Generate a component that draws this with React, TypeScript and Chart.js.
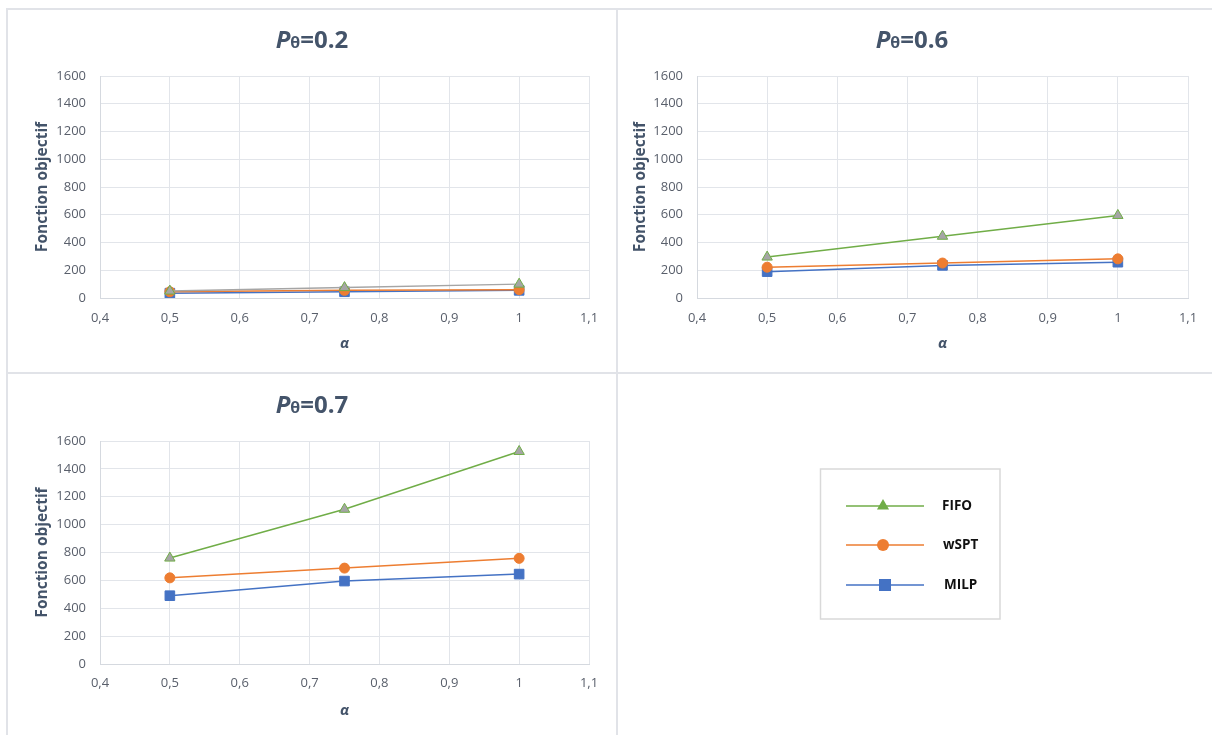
import React, { useEffect, useRef } from "react";
import { Chart, registerables } from "chart.js";

Chart.register(...registerables);

// ---------------- data ----------------
const alphaValues = [0.5, 0.75, 1];
const seriesNames = ["FIFO", "wSPT", "MILP"];

const fifoP02 = [50, 75, 100];
const wsptP02 = [45, 55, 60];
const milpP02 = [35, 45, 55];

const fifoP06 = [295, 445, 595];
const wsptP06 = [222, 252, 282];
const milpP06 = [190, 235, 258];

const fifoP07 = [760, 1110, 1525];
const wsptP07 = [618, 688, 758];
const milpP07 = [490, 595, 645];

const panelValues = ["0.2", "0.6", "0.7"];
const yAxisTitle = "Fonction objectif";
const xAxisTitle = "α";
const xTickMin = 0.4;
const xTickMax = 1.1;
const xTickStep = 0.1;
const yTickMin = 0;
const yTickMax = 1600;
const yTickStep = 200;

// ---------------- styles ----------------
const FONT = '"Open Sans", "DejaVu Sans", sans-serif';
const GREEN = "#70AD47";
const ORANGE = "#ED7D31";
const BLUE = "#4472C4";
const GREY = "#A5A5A5";
const TITLE_COLOR = "#44546A";
const TICK_COLOR = "#595F6B";
const GRID_COLOR = "#E2E5EA";
const AXIS_COLOR = "#D5D9DF";
const PANEL_LINE = "#E1E3E8";

Chart.defaults.font.family = FONT;

type Layout = {
  left: number; top: number; width: number; height: number;
  pad: { left: number; right: number; top: number; bottom: number };
  yWidth: number; yTitlePad: number; xTickPad: number; xTitlePad: number;
  titleX: number; titleBase: number;
};

const layouts: Layout[] = [
  { left: 7, top: 9, width: 610, height: 364, pad: { left: 18, right: 28, top: 67, bottom: 15 }, yWidth: 75, yTitlePad: 8, xTickPad: 12, xTitlePad: 5, titleX: 305, titleBase: 38.5 },
  { left: 617, top: 9, width: 595, height: 364, pad: { left: 6, right: 24, top: 67, bottom: 15 }, yWidth: 74, yTitlePad: 8, xTickPad: 12, xTitlePad: 5, titleX: 295, titleBase: 38.5 },
  { left: 7, top: 373, width: 610, height: 362, pad: { left: 18, right: 28, top: 68, bottom: 11 }, yWidth: 75, yTitlePad: 8, xTickPad: 11, xTitlePad: 4, titleX: 305, titleBase: 40 },
];

const legendLayout = { left: 617, top: 373, width: 595, height: 362 };

// ---------------- plugins ----------------
const panelTitlePlugin = {
  id: "panelTitle",
  afterDraw(chart: any, _args: any, opts: any) {
    if (!opts || !opts.value) return;
    const ctx = chart.ctx as CanvasRenderingContext2D;
    const parts: { text: string; font: string; w?: number }[] = [
      { text: "P", font: `italic bold 24px ${FONT}` },
      { text: "θ", font: `bold 16px ${FONT}` },
      { text: "=" + opts.value, font: `bold 24px ${FONT}` },
    ];
    ctx.save();
    let total = 0;
    parts.forEach((p) => {
      ctx.font = p.font;
      p.w = ctx.measureText(p.text).width;
      total += p.w;
    });
    let x = opts.x - total / 2;
    ctx.fillStyle = TITLE_COLOR;
    ctx.textAlign = "left";
    ctx.textBaseline = "alphabetic";
    parts.forEach((p) => {
      ctx.font = p.font;
      ctx.fillText(p.text, x, opts.baseline);
      x += p.w || 0;
    });
    ctx.restore();
  },
};

function drawMarker(ctx: CanvasRenderingContext2D, shape: string, x: number, y: number, r: number) {
  ctx.beginPath();
  if (shape === "triangle") {
    ctx.moveTo(x, y - r);
    ctx.lineTo(x + r * 0.866, y + r * 0.5);
    ctx.lineTo(x - r * 0.866, y + r * 0.5);
    ctx.closePath();
  } else if (shape === "circle") {
    ctx.arc(x, y, r, 0, Math.PI * 2);
  } else {
    const s = r * Math.SQRT1_2;
    ctx.rect(x - s, y - s, 2 * s, 2 * s);
  }
  ctx.fill();
}

const boxLegendPlugin = {
  id: "boxLegend",
  afterDraw(chart: any, _args: any, opts: any) {
    const ctx = chart.ctx as CanvasRenderingContext2D;
    const { box, rows, lineX1, lineX2, markerX, textX } = opts;
    ctx.save();
    ctx.strokeStyle = "#D9D9D9";
    ctx.lineWidth = 1.5;
    ctx.strokeRect(box.left, box.top, box.right - box.left, box.bottom - box.top);
    chart.data.datasets.forEach((ds: any, i: number) => {
      const y = rows[i];
      ctx.strokeStyle = ds.borderColor;
      ctx.lineWidth = 1.5;
      ctx.beginPath();
      ctx.moveTo(lineX1, y);
      ctx.lineTo(lineX2, y);
      ctx.stroke();
      ctx.fillStyle = ds.borderColor;
      drawMarker(ctx, ds.pointStyle, markerX + (ds.pointStyle === "rect" ? 2 : 0), y, ds.legendRadius);
      ctx.fillStyle = "#111111";
      ctx.font = `bold 13.5px ${FONT}`;
      ctx.textAlign = "left";
      ctx.textBaseline = "middle";
      ctx.fillText(ds.label, textX + i, y);
    });
    ctx.restore();
  },
};

// ---------------- config ----------------
function pointsOf(values: number[]) {
  return alphaValues.map((a, i) => ({ x: a, y: values[i] }));
}

function makeConfig(idx: number, fifo: number[], wspt: number[], milp: number[], fifoLineColor: string): any {
  const L = layouts[idx];
  return {
    type: "line",
    data: {
      datasets: [
        {
          label: seriesNames[0], data: pointsOf(fifo), borderColor: fifoLineColor, borderWidth: 1.5,
          pointStyle: "triangle", pointRadius: 6, pointBackgroundColor: GREY, pointBorderColor: GREEN,
          pointBorderWidth: 1, fill: false, tension: 0,
        },
        {
          label: seriesNames[1], data: pointsOf(wspt), borderColor: ORANGE, borderWidth: 1.5,
          pointStyle: "circle", pointRadius: 5, pointBackgroundColor: ORANGE, pointBorderColor: ORANGE,
          pointBorderWidth: 1, fill: false, tension: 0,
        },
        {
          label: seriesNames[2], data: pointsOf(milp), borderColor: BLUE, borderWidth: 1.5,
          pointStyle: "rect", pointRadius: 6.8, pointBackgroundColor: BLUE, pointBorderColor: BLUE,
          pointBorderWidth: 1, fill: false, tension: 0,
        },
      ],
    },
    options: {
      animation: false,
      responsive: false,
      devicePixelRatio: 1,
      layout: { padding: L.pad },
      plugins: {
        legend: { display: false },
        tooltip: { enabled: false },
        title: { display: false },
        panelTitle: { value: panelValues[idx], x: L.titleX, baseline: L.titleBase },
      },
      scales: {
        x: {
          type: "linear",
          min: xTickMin,
          max: xTickMax,
          afterFit: (s: any) => { s.height = 60; },
          ticks: {
            stepSize: xTickStep,
            padding: L.xTickPad,
            color: TICK_COLOR,
            font: { size: 13, family: FONT },
            maxRotation: 0,
            autoSkip: false,
            callback: (v: any) => String(Math.round(Number(v) * 10) / 10).replace(".", ","),
          },
          grid: { color: GRID_COLOR, lineWidth: 1, drawTicks: false },
          border: { color: AXIS_COLOR, width: 1 },
          title: {
            display: true, text: xAxisTitle, color: TITLE_COLOR,
            font: { size: 15, weight: "bold", style: "italic", family: FONT },
            padding: { top: 0, bottom: L.xTitlePad },
          },
        },
        y: {
          type: "linear",
          min: yTickMin,
          max: yTickMax,
          afterFit: (s: any) => { s.width = L.yWidth; },
          ticks: {
            stepSize: yTickStep,
            padding: 14,
            color: TICK_COLOR,
            font: { size: 13, family: FONT },
            callback: (v: any) => String(Math.round(Number(v))),
          },
          grid: { color: GRID_COLOR, lineWidth: 1, drawTicks: false },
          border: { color: AXIS_COLOR, width: 1 },
          title: {
            display: true, text: yAxisTitle, color: TITLE_COLOR,
            font: { size: 15.5, weight: "bold", family: FONT },
            padding: { top: L.yTitlePad, bottom: 0 },
          },
        },
      },
    },
    plugins: [panelTitlePlugin],
  };
}

function makeLegendConfig(): any {
  const colors = [GREEN, ORANGE, BLUE];
  const shapes = ["triangle", "circle", "rect"];
  const radii = [7, 6, 8.5];
  return {
    type: "line",
    data: {
      datasets: seriesNames.map((name, i) => ({
        label: name, data: [], borderColor: colors[i], pointStyle: shapes[i], legendRadius: radii[i],
      })),
    },
    options: {
      animation: false,
      responsive: false,
      devicePixelRatio: 1,
      plugins: {
        legend: { display: false },
        tooltip: { enabled: false },
        boxLegend: {
          box: { left: 203.5, top: 96, right: 383, bottom: 246 },
          rows: [133, 172, 212],
          lineX1: 229, lineX2: 307, markerX: 266, textX: 325,
        },
      },
      scales: { x: { display: false }, y: { display: false } },
    },
    plugins: [boxLegendPlugin],
  };
}

// ---------------- components ----------------
function ChartCanvas({ config, box }: { config: any; box: { left: number; top: number; width: number; height: number } }) {
  const ref = useRef<HTMLCanvasElement>(null);
  useEffect(() => {
    const chart = new Chart(ref.current as HTMLCanvasElement, config);
    return () => chart.destroy();
  }, []);
  return (
    <canvas
      ref={ref}
      width={box.width}
      height={box.height}
      style={{ position: "absolute", left: box.left, top: box.top, width: box.width, height: box.height }}
    />
  );
}

function Line({ left, top, width, height }: { left: number; top: number; width: number; height: number }) {
  return <div style={{ position: "absolute", left, top, width, height, background: PANEL_LINE }} />;
}

export default function App() {
  const configs = [
    makeConfig(0, fifoP02, wsptP02, milpP02, GREY),
    makeConfig(1, fifoP06, wsptP06, milpP06, GREEN),
    makeConfig(2, fifoP07, wsptP07, milpP07, GREEN),
  ];
  return (
    <div style={{ position: "absolute", left: 0, top: 0, width: 1212, height: 735, overflow: "hidden", background: "#ffffff" }}>
      {configs.map((c, i) => (
        <ChartCanvas key={i} config={c} box={layouts[i]} />
      ))}
      <ChartCanvas config={makeLegendConfig()} box={legendLayout} />
      <Line left={7} top={8} width={1205} height={2} />
      <Line left={6} top={8} width={2} height={727} />
      <Line left={616} top={8} width={2} height={727} />
      <Line left={7} top={372} width={1205} height={2} />
    </div>
  );
}
